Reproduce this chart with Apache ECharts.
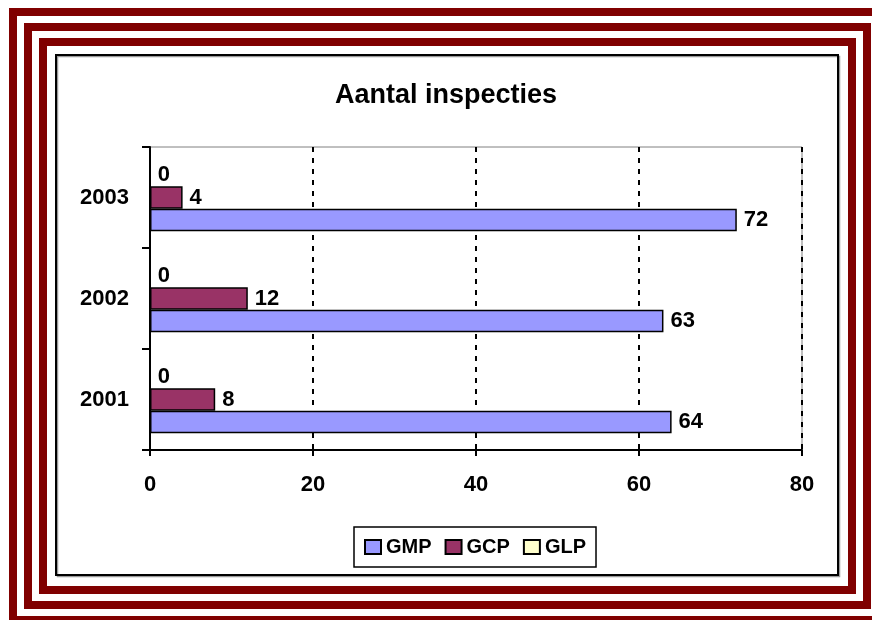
<!DOCTYPE html>
<html>
<head>
<meta charset="utf-8">
<script src="https://cdn.jsdelivr.net/npm/echarts@6/dist/echarts.min.js"></script>
<style>
  html, body { margin: 0; padding: 0; background: #ffffff; }
  #chart { width: 872px; height: 620px; }
</style>
</head>
<body>
<div id="chart"></div>
<script>
// Inspections per year, by inspection type
const years = ['2001', '2002', '2003'];
const gmp = [64, 63, 72];
const gcp = [8, 12, 4];
const glp = [0, 0, 0];
const xTicks = [0, 20, 40, 60, 80];

const FONT = 'Liberation Sans, Arial, sans-serif';
const frameRed = '#800000';

const chart = echarts.init(document.getElementById('chart'), null, { renderer: 'canvas' });

const labelStyle = {
  show: true,
  position: 'right',
  distance: 7,
  color: '#000',
  fontFamily: FONT,
  fontWeight: 'bold',
  fontSize: 22
};

function barSeries(name, data, color) {
  return {
    name: name,
    type: 'bar',
    data: data,
    barGap: '0%',
    barCategoryGap: '33%',
    itemStyle: { color: color, borderColor: '#000', borderWidth: 1.5 },
    label: labelStyle,
    emphasis: { disabled: true }
  };
}

chart.setOption({
  backgroundColor: '#ffffff',
  animation: false,
  title: {
    text: 'Aantal inspecties',
    left: 330,
    top: 77,
    textStyle: { fontFamily: FONT, fontWeight: 'bold', fontSize: 27, color: '#000' }
  },
  legend: {
    left: 354,
    top: 527,
    padding: [10, 10, 10, 10],
    borderColor: '#000',
    borderWidth: 1.5,
    itemGap: 13,
    itemWidth: 16,
    itemHeight: 14,
    icon: 'rect',
    textStyle: { fontFamily: FONT, fontWeight: 'bold', fontSize: 20, color: '#000' },
    data: ['GMP', 'GCP', 'GLP']
  },
  grid: {
    left: 150,
    top: 147,
    right: 70,
    bottom: 170,
    show: true,
    borderColor: '#808080',
    borderWidth: 1,
    backgroundColor: 'transparent'
  },
  xAxis: {
    type: 'value',
    min: xTicks[0],
    max: xTicks[xTicks.length - 1],
    interval: xTicks[1] - xTicks[0],
    axisLine: { show: true, lineStyle: { color: '#000', width: 2 } },
    axisTick: { show: true, length: 6, lineStyle: { color: '#000', width: 2 } },
    axisLabel: { margin: 24, color: '#000', fontFamily: FONT, fontWeight: 'bold', fontSize: 22 },
    splitLine: { show: true, lineStyle: { color: '#000', width: 2, type: [5, 6] } }
  },
  yAxis: {
    type: 'category',
    data: years,
    axisLine: { show: true, lineStyle: { color: '#000', width: 2 } },
    axisTick: { show: true, length: 8, lineStyle: { color: '#000', width: 2 } },
    axisLabel: { margin: 21, color: '#000', fontFamily: FONT, fontWeight: 'bold', fontSize: 22 },
    splitLine: { show: false }
  },
  // stacked top-to-bottom inside each year: GLP, GCP, GMP
  series: [
    barSeries('GLP', glp, '#ffffcc'),
    barSeries('GCP', gcp, '#993366'),
    barSeries('GMP', gmp, '#9999ff')
  ],
  graphic: [
    // three nested dark-red frames
    { type: 'rect', z: 100, silent: true, shape: { x: 13, y: 12, width: 869, height: 608 },
      style: { fill: null, stroke: frameRed, lineWidth: 8 } },
    { type: 'rect', z: 100, silent: true, shape: { x: 28, y: 27, width: 839, height: 578 },
      style: { fill: null, stroke: frameRed, lineWidth: 8 } },
    { type: 'rect', z: 100, silent: true, shape: { x: 43, y: 42, width: 809, height: 548 },
      style: { fill: null, stroke: frameRed, lineWidth: 8 } },
    // chart area border with a soft grey shadow
    { type: 'rect', z: 99, silent: true, shape: { x: 57.5, y: 56.5, width: 782, height: 520 },
      style: { fill: null, stroke: '#999999', lineWidth: 1.5 } },
    { type: 'rect', z: 100, silent: true, shape: { x: 56, y: 55, width: 782, height: 520 },
      style: { fill: null, stroke: '#000000', lineWidth: 2 } }
  ]
});
</script>
</body>
</html>
